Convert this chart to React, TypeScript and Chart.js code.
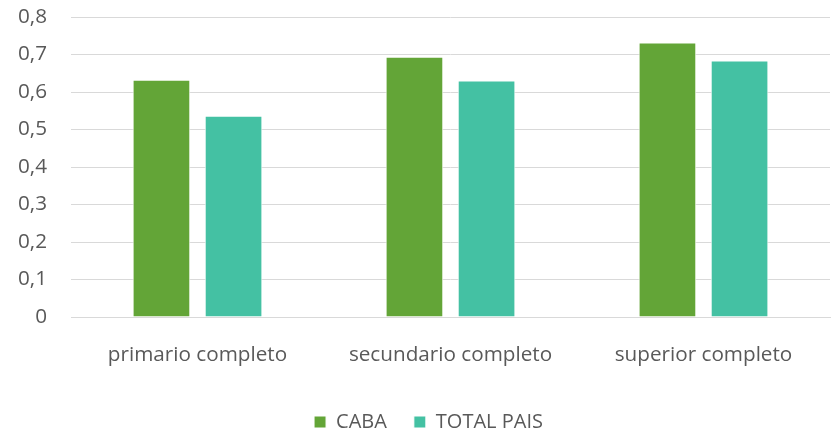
import React, { useEffect, useRef } from "react";
import { Chart, registerables } from "chart.js";

Chart.register(...registerables);

const categories = ["primario completo", "secundario completo", "superior completo"];
const cabaValues = [0.633, 0.694, 0.732];
const totalPaisValues = [0.537, 0.631, 0.684];
const seriesNames = ["CABA", "TOTAL PAIS"];

const legendShift = {
  id: "legendShift",
  afterLayout(chart: any) {
    if (chart.legend) chart.legend.left += 27;
  },
};

export default function App() {
  const ref = useRef<HTMLCanvasElement | null>(null);
  useEffect(() => {
    if (!ref.current) return;
    const tickFont = { family: "'Open Sans', sans-serif", size: 20.7 };
    const legendFont = { family: "'Open Sans', sans-serif", size: 20 };
    const chart = new Chart(ref.current, {
      type: "bar",
      data: {
        labels: categories,
        datasets: [
          {
            label: seriesNames[0],
            data: cabaValues,
            backgroundColor: "#63A537",
            borderColor: "#ffffff",
            borderWidth: 1,
            categoryPercentage: 0.57,
            barPercentage: 0.8,
          },
          {
            label: seriesNames[1],
            data: totalPaisValues,
            backgroundColor: "#44C1A3",
            borderColor: "#ffffff",
            borderWidth: 1,
            categoryPercentage: 0.57,
            barPercentage: 0.8,
          },
        ],
      },
      options: {
        responsive: false,
        animation: false,
        layout: { padding: { top: 17, right: 1, left: 0, bottom: 0 } },
        plugins: {
          legend: {
            position: "bottom",
            labels: {
              font: legendFont,
              color: "#595959",
              boxWidth: 12,
              boxHeight: 12,
              padding: 27,
            },
          },
          tooltip: { enabled: false },
        },
        scales: {
          x: {
            grid: { display: false, drawTicks: false },
            border: { display: true, color: "#d9d9d9", width: 1 },
            ticks: { font: tickFont, color: "#595959", padding: 26 },
            afterFit: (s: any) => {
              s.height = 68;
            },
          },
          y: {
            min: 0,
            max: 0.8,
            grid: { color: "#d9d9d9", lineWidth: 1, drawTicks: false },
            border: { display: false },
            ticks: {
              stepSize: 0.1,
              font: tickFont,
              color: "#595959",
              padding: 24,
              callback: (v: any) => (Number(v) === 0 ? "0" : Number(v).toFixed(1).replace(".", ",")),
            },
            afterFit: (s: any) => {
              s.width = 71;
              s.paddingTop = 0;
              s.paddingBottom = 0;
            },
          },
        },
      },
      plugins: [legendShift],
    });
    return () => chart.destroy();
  }, []);
  return (
    <div style={{ position: "fixed", left: 0, top: 0, width: 831, height: 431, overflow: "hidden", background: "#fff" }}>
      <canvas ref={ref} width={831} height={442} />
    </div>
  );
}
